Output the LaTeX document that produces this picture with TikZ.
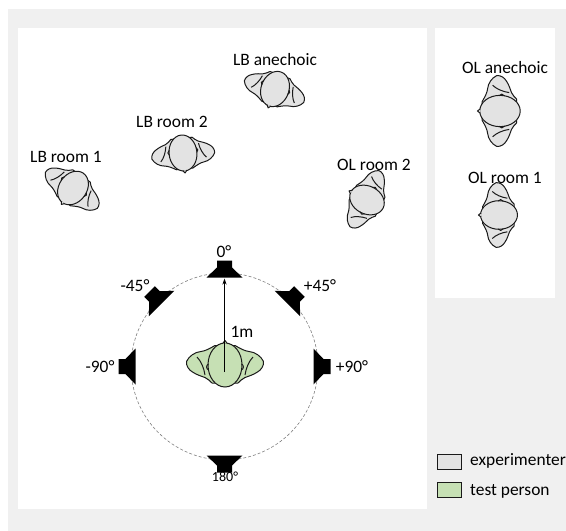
\documentclass[tikz,border=0pt]{standalone}
\usepackage{fontspec}
\setmainfont{Carlito}
\usetikzlibrary{arrows.meta,calc}
\definecolor{pagegray}{HTML}{F0F0F0}
\definecolor{persongray}{HTML}{E3E3E3}
\definecolor{persongreen}{HTML}{C6E0B4}
\definecolor{outline}{HTML}{1A1A1A}
\tikzset{
  lbl/.style={font=\fontsize{17.4}{20}\selectfont, inner sep=0pt, anchor=base},
  smalllbl/.style={font=\fontsize{14}{16}\selectfont, inner sep=0pt, anchor=base},
  legendbox/.style={draw=outline, line width=1pt, minimum width=24pt, minimum height=15pt, inner sep=0pt},
  % top view of a person, facing up, head centre at the origin
  pics/person/.style={code={
    \begin{scope}[draw=outline, line width=1pt, line join=round]
      \filldraw[fill=#1]
        (-10,-19.5) .. controls (-16,-16) and (-20,-14) .. (-24,-13.5)
        .. controls (-30,-13) and (-36,-9) .. (-38.5,-3.5)
        .. controls (-39,1) and (-36,5) .. (-32.5,7)
        .. controls (-28,10) and (-24,11) .. (-20,12.5)
        .. controls (-17,14) and (-15,16) .. (-13,18)
        -- (13,18)
        .. controls (15,16) and (17,14) .. (20,12.5)
        .. controls (24,11) and (28,10) .. (32.5,7)
        .. controls (36,5) and (39,1) .. (38.5,-3.5)
        .. controls (36,-9) and (30,-13) .. (24,-13.5)
        .. controls (20,-14) and (16,-16) .. (10,-19.5) -- cycle;
      \draw (-28,-8) .. controls (-24,-4) and (-21,3) .. (-20,10);
      \draw (28,-8) .. controls (24,-4) and (21,3) .. (20,10);
      \filldraw[fill=#1] (0,0) ellipse[x radius=17, y radius=22];
      \filldraw[fill=#1] (-2.5,-21.3) -- (0,-24.5) -- (2.5,-21.3);
      \draw (-16.6,-1) .. controls (-19,0) and (-19,4) .. (-16.4,5);
      \draw (16.6,-1) .. controls (19,0) and (19,4) .. (16.4,5);
    \end{scope}
  }},
  % loudspeaker seen from above: cone opening downwards, base on the origin
  pics/speaker/.style={code={
    \fill[black] (-18,0) -- (-7.5,-10) -- (-7.5,-17) -- (7.5,-17) -- (7.5,-10) -- (18,0) -- cycle;
  }},
}
\begin{document}
\begin{tikzpicture}[x=1pt, y=-1pt]
  \useasboundingbox (0,0) rectangle (566,531);
  % page background and panels
  \fill[pagegray] (8,9) rectangle (566,531);
  \fill[white] (18,28) rectangle (427,509);
  \fill[white] (435,28) rectangle (555,298);

  % listening circle
  \coordinate (C) at (224.5,366.5);
  \draw[gray, line width=0.6pt, dash pattern=on 3pt off 2pt] (C) circle[radius=93.5];

  % loudspeakers around the circle
  \foreach \ang/\nm in {0/s0, 45/s45, -45/sm45, 90/s90, -90/sm90, 180/s180} {
    \coordinate (\nm) at ($(C)+({sin(\ang)*89},{-cos(\ang)*89})$);
    \pic[rotate=-\ang] at (\nm) {speaker};
  }

  % speaker angle labels
  \node[lbl] (l0)    at (224,257) {0°};
  \node[lbl] (l45)   at (320,291) {+45°};
  \node[lbl] (lm45)  at (135,291) {-45°};
  \node[lbl] (l90)   at (352,372) {+90°};
  \node[lbl] (lm90)  at (100,372) {-90°};
  \node[smalllbl] (l180) at (225,481) {180°};

  % test person in the centre
  \coordinate (tp) at (225,365);
  \pic at (tp) {person=persongreen};
  \coordinate (tphead) at (224.5,372);
  \draw[-{Stealth[length=6pt,width=4pt]}, line width=0.9pt] (tphead) -- ($(s0)+(0,1)$);
  \node[lbl] (dist) at (242,337) {1m};

  % experimenter positions
  \pic[rotate=145, scale=0.82] at (73,188)  {person=persongray};
  \pic[rotate=186, scale=0.82] at (183,153) {person=persongray};
  \pic[rotate=160, scale=0.82] at (275,89)  {person=persongray};
  \pic[rotate=63,  scale=0.82] at (367,200) {person=persongray};
  \pic[rotate=90,  scale=0.92] at (500,111) {person=persongray};
  \pic[rotate=90,  scale=0.84] at (499,215) {person=persongray};

  \node[lbl] (lbr1) at (66,162)  {LB room 1};
  \node[lbl] (lbr2) at (172,127) {LB room 2};
  \node[lbl] (lban) at (275,65)  {LB anechoic};
  \node[lbl] (olr2) at (374,170) {OL room 2};
  \node[lbl] (olan) at (505,73)  {OL anechoic};
  \node[lbl] (olr1) at (505,183) {OL room 1};

  % legend
  \node[legendbox, fill=persongray]  (kexp) at (449,461.5) {};
  \node[legendbox, fill=persongreen] (ktp)  at (449,490) {};
  \node[lbl, anchor=base west] (texp) at (470,465) {experimenter};
  \node[lbl, anchor=base west] (ttp)  at (470,495) {test person};
\end{tikzpicture}
\end{document}
